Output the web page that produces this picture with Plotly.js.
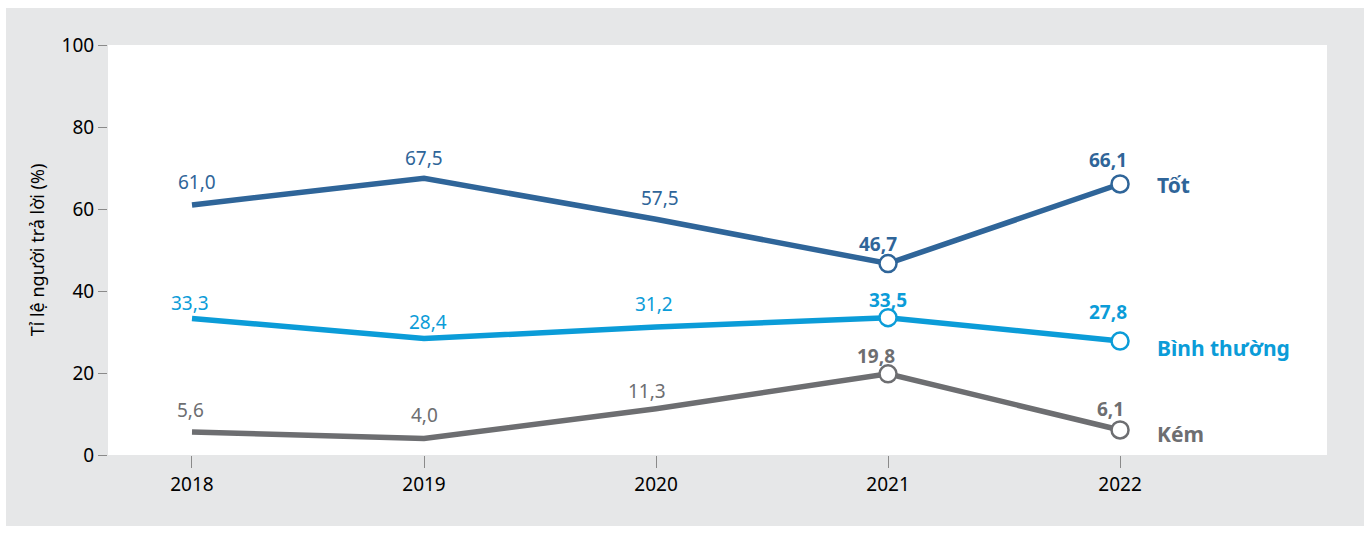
<!DOCTYPE html>
<html>
<head>
<meta charset="utf-8">
<script src="https://cdn.plot.ly/plotly-3.0.1.min.js"></script>
<style>
html,body{margin:0;padding:0;background:#ffffff;width:1371px;height:548px;overflow:hidden;}
#chart{position:absolute;left:6px;top:8px;width:1358px;height:518px;}
</style>
</head>
<body>
<div id="chart"></div>
<script>
const years = [2018, 2019, 2020, 2021, 2022];
const tot = [61.0, 67.5, 57.5, 46.7, 66.1];
const binhThuong = [33.3, 28.4, 31.2, 33.5, 27.8];
const kem = [5.6, 4.0, 11.3, 19.8, 6.1];
const seriesNames = ['Tốt', 'Bình thường', 'Kém'];
const yTicks = [0, 20, 40, 60, 80, 100];

const colors = ['#2f6599', '#0b9cd8', '#6d6e71'];
const FONT = 'Noto Sans, sans-serif';
const series = [tot, binhThuong, kem];

// label offsets [xshift, yshift] per point (positions only)
const offs = [
  [[5,23],[0,20],[4,21],[-10,20],[-12,24]],
  [[-2,15],[4,17],[-2,23],[0,18],[-12,29]],
  [[-1,22],[0,24],[-9,18],[-12,18],[-10,21]]
];
const nameShift = [-1, -7, -4];

const fmt = v => v.toFixed(1).replace('.', ',');

const traces = [];
series.forEach((vals, i) => {
  traces.push({
    x: years, y: vals, mode: 'lines', name: seriesNames[i],
    line: {color: colors[i], width: 5.5},
    hoverinfo: 'skip', showlegend: false
  });
});
series.forEach((vals, i) => {
  traces.push({
    x: years.slice(3), y: vals.slice(3), mode: 'markers',
    marker: {size: 17, color: '#ffffff', line: {color: colors[i], width: 2.5}},
    hoverinfo: 'skip', showlegend: false
  });
});

const annotations = [];
series.forEach((vals, i) => {
  vals.forEach((v, j) => {
    const bold = j >= 3;
    annotations.push({
      x: years[j], y: v, xref: 'x', yref: 'y',
      text: bold ? '<b>' + fmt(v) + '</b>' : fmt(v),
      showarrow: false, xanchor: 'center', yanchor: 'middle',
      xshift: offs[i][j][0], yshift: offs[i][j][1],
      font: {family: FONT, size: 19, color: colors[i]}
    });
  });
  annotations.push({
    x: years[years.length-1], y: vals[vals.length-1], xref: 'x', yref: 'y',
    text: '<b>' + seriesNames[i] + '</b>',
    showarrow: false, xanchor: 'left', yanchor: 'middle',
    xshift: 35, yshift: nameShift[i],
    font: {family: FONT, size: 21, color: colors[i]}
  });
});

const layout = {
  width: 1358, height: 518,
  paper_bgcolor: '#e6e7e8', plot_bgcolor: '#ffffff',
  margin: {l: 102, r: 37, t: 37, b: 71},
  font: {family: FONT, color: '#000000'},
  showlegend: false,
  xaxis: {
    range: [2017.638, 2022.892], tickvals: years, ticktext: years.map(String),
    ticks: 'outside', ticklen: 12, tickwidth: 1, tickcolor: '#8a8a8a',
    showgrid: false, zeroline: false, showline: false,
    tickfont: {family: FONT, size: 19, color: '#000000'}
  },
  yaxis: {
    range: [0, 100], tickvals: yTicks, ticks: 'outside', ticklen: 9, tickwidth: 1,
    tickcolor: '#8a8a8a', showgrid: false, zeroline: false, showline: false,
    tickfont: {family: FONT, size: 19, color: '#000000'},
    title: {text: 'Tỉ lệ người trả lời (%)', font: {family: FONT, size: 18, color: '#000000'}, standoff: 12}
  },
  annotations: annotations
};

Plotly.newPlot('chart', traces, layout, {displayModeBar: false, staticPlot: true});
</script>
</body>
</html>
